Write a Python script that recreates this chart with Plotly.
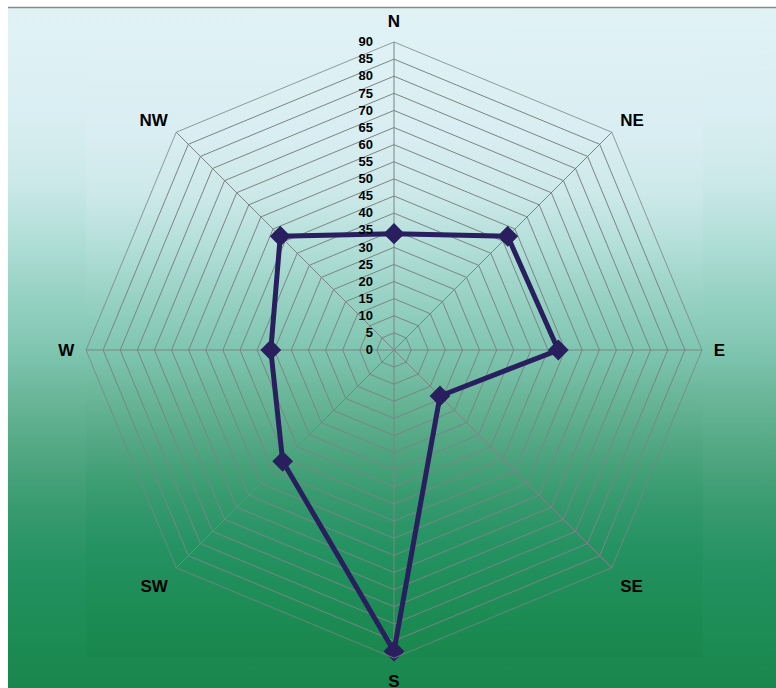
import base64
import plotly.graph_objects as go

# Wind-direction frequencies (compass sectors, clockwise from north)
directions = ["N", "NE", "E", "SE", "S", "SW", "W", "NW"]
values = [34, 47, 48, 19, 88, 46, 36, 47]
radial_ticks = list(range(0, 95, 5))

W, H = 776, 688
LINE_COL = "#2a1f5e"
GRID_COL = "#7a8585"

# Vertical light-cyan to green gradient used for the chart and plot areas
stops = [
    (0.00, "#e0f2f6"),
    (0.15, "#daeff3"),
    (0.25, "#cde9ea"),
    (0.33, "#b4e0da"),
    (0.42, "#97d2c3"),
    (0.50, "#80c6b1"),
    (0.58, "#68b597"),
    (0.66, "#4fa680"),
    (0.74, "#369a6e"),
    (0.82, "#259262"),
    (0.90, "#1e8d57"),
    (1.00, "#19874d"),
]
stop_xml = "".join(
    f'<stop offset="{o}" stop-color="{c}"/>' for o, c in stops
)
svg = (
    '<svg xmlns="http://www.w3.org/2000/svg" width="100" height="100" '
    'viewBox="0 0 100 100" preserveAspectRatio="none">'
    '<defs><linearGradient id="g" x1="0" y1="0" x2="0" y2="1">'
    f"{stop_xml}</linearGradient></defs>"
    '<rect x="0" y="0" width="100" height="100" fill="url(#g)"/></svg>'
)
grad_src = "data:image/svg+xml;base64," + base64.b64encode(svg.encode()).decode()


def px_box(x0, y0, x1, y1):
    return dict(
        x=x0 / W, y=1 - y0 / H, sizex=(x1 - x0) / W, sizey=(y1 - y0) / H
    )


theta = directions + directions[:1]
r = values + values[:1]

fig = go.Figure()
fig.add_trace(
    go.Scatterpolar(
        r=r,
        theta=theta,
        mode="lines+markers",
        line=dict(color=LINE_COL, width=5),
        marker=dict(symbol="diamond", size=16, color=LINE_COL),
        hoverinfo="r+theta",
    )
)

images = [
    dict(source=grad_src, xref="paper", yref="paper", xanchor="left",
         yanchor="top", sizing="stretch", layer="below",
         **px_box(8, 8, W, H)),
    dict(source=grad_src, xref="paper", yref="paper", xanchor="left",
         yanchor="top", sizing="stretch", layer="below", opacity=0.9,
         **px_box(86, 42, 703, 658)),
]

fig.update_layout(
    width=W,
    height=H,
    margin=dict(l=0, r=0, t=0, b=0),
    paper_bgcolor="white",
    showlegend=False,
    font=dict(family="Liberation Sans, Arial, sans-serif", color="black"),
    images=images,
    shapes=[
        dict(type="line", xref="paper", yref="paper",
             x0=8 / W, x1=1, y0=1 - 7.5 / H, y1=1 - 7.5 / H,
             line=dict(color="#8a8a8a", width=1.5)),
    ],
    polar=dict(
        domain=dict(x=[86 / W, 702 / W], y=[1 - 658 / H, 1 - 42 / H]),
        bgcolor="rgba(0,0,0,0)",
        gridshape="linear",
        radialaxis=dict(
            range=[0, 90],
            tickvals=radial_ticks,
            ticktext=[str(v) for v in radial_ticks],
            angle=90,
            tickangle=90,
            side="counterclockwise",
            showline=False,
            ticks="outside",
            ticklen=16,
            tickcolor="rgba(0,0,0,0)",
            gridcolor=GRID_COL,
            gridwidth=0.8,
            tickfont=dict(size=13, weight="bold", color="black",
                          family="Liberation Sans, Arial, sans-serif"),
        ),
        angularaxis=dict(
            direction="clockwise",
            rotation=90,
            categoryorder="array",
            categoryarray=directions,
            showline=True,
            linecolor=GRID_COL,
            linewidth=0.8,
            gridcolor=GRID_COL,
            gridwidth=0.8,
            ticks="outside",
            ticklen=8,
            tickcolor="rgba(0,0,0,0)",
            tickfont=dict(size=17, weight="bold", color="black",
                          family="Liberation Sans, Arial, sans-serif"),
        ),
    ),
)

fig.write_html("out.html")
